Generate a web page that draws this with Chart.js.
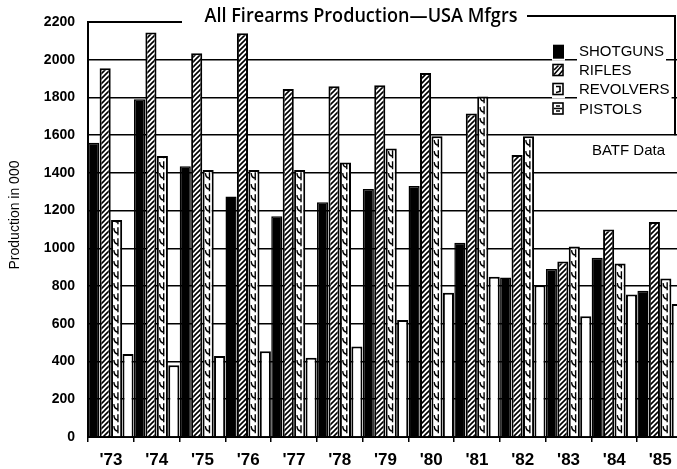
<!DOCTYPE html>
<html><head><meta charset="utf-8">
<script src="https://cdn.jsdelivr.net/npm/chart.js@4/dist/chart.umd.min.js"></script>
<style>html,body{margin:0;padding:0;background:#fff;overflow:hidden;}canvas{display:block}</style>
</head><body>
<canvas id="c" width="683" height="469"></canvas>
<script>
const years = ["'73","'74","'75","'76","'77","'78","'79","'80","'81","'82","'83","'84","'85"];
const shotguns  = [1560,1790,1435,1275,1170,1245,1315,1330,1030, 845, 890, 950, 775];
const rifles    = [1955,2145,2035,2140,1845,1860,1865,1930,1715,1495, 930,1100,1140];
const revolvers = [1150,1490,1415,1415,1415,1455,1530,1595,1805,1595,1010, 920, 840];
const pistols   = [ 440, 380, 430, 455, 420, 480, 620, 765, 850, 805, 640, 755, 705];
const yMin = 0, yMax = 2200, yStep = 200;
const seriesNames = ['SHOTGUNS','RIFLES','REVOLVERS','PISTOLS'];
const titleText = 'All Firearms Production\u2014USA Mfgrs';
const yTitleText = 'Production in 000';
const sourceText = 'BATF Data';

function hatchPattern(){
  const s=5, c=document.createElement('canvas'); c.width=s; c.height=s;
  const g=c.getContext('2d');
  g.fillStyle='#fff'; g.fillRect(0,0,s,s);
  g.strokeStyle='#000'; g.lineWidth=1.6; g.beginPath();
  g.moveTo(-1,s+1); g.lineTo(s+1,-1);
  g.moveTo(-1,1); g.lineTo(1,-1);
  g.moveTo(s-1,s+1); g.lineTo(s+1,s-1);
  g.stroke();
  return g.createPattern(c,'repeat');
}
const hatch = hatchPattern();

function drawHooks(ctx,left,right,top,bottom){
  ctx.save();
  ctx.beginPath(); ctx.rect(left+1,top+1,right-left-2,bottom-top-1); ctx.clip();
  ctx.strokeStyle='#000'; ctx.lineWidth=1.4;
  const w=right-left;
  for(let yy=bottom-10; yy>top-8; yy-=11){
    ctx.beginPath();
    ctx.moveTo(left+w*0.25, yy);
    ctx.quadraticCurveTo(left+w*0.3, yy+5, left+w*0.62, yy+5);
    ctx.moveTo(left+w*0.62, yy-1);
    ctx.lineTo(left+w*0.62, yy+7);
    ctx.stroke();
  }
  ctx.restore();
}

const decoPlugin = {
  id:'deco',
  afterDatasetsDraw(chart){
    const ctx=chart.ctx;
    const meta=chart.getDatasetMeta(2);
    meta.data.forEach(el=>{
      const p=el.getProps(['x','y','base','width'],true);
      drawHooks(ctx,p.x-p.width/2,p.x+p.width/2,p.y,p.base);
    });
  },
  afterDraw(chart){
    const ctx=chart.ctx, ys=chart.scales.y, a=chart.chartArea;
    const yTop=ys.getPixelForValue(yMax);
    ctx.save();
    ctx.strokeStyle='#000'; ctx.lineWidth=2;
    ctx.beginPath();
    ctx.moveTo(a.left-1,yTop); ctx.lineTo(182,yTop);
    ctx.moveTo(527,16); ctx.lineTo(676,16);
    ctx.moveTo(675,16); ctx.lineTo(675,ys.getPixelForValue(1600));
    ctx.stroke();
    ctx.fillStyle='#000';
    ctx.font='600 19px "Open Sans"';
    ctx.textAlign='center'; ctx.textBaseline='alphabetic';
    ctx.fillText(titleText,361,22,313);
    ctx.save();
    ctx.translate(15,215); ctx.rotate(-Math.PI/2);
    ctx.font='14px "Liberation Sans"'; ctx.textAlign='center'; ctx.textBaseline='middle';
    ctx.fillText(yTitleText,0,0);
    ctx.restore();
    const rows=[51.7,70.5,89.5,109];
    ctx.font='15px "Liberation Sans"';
    ctx.textAlign='left'; ctx.textBaseline='middle';
    rows.forEach((cy,i)=>{
      const tw=ctx.measureText(seriesNames[i]).width;
      ctx.fillStyle='#fff';
      ctx.fillRect(577,cy-8,tw+4,18);
      ctx.fillRect(552,cy-8,13,17);
      ctx.fillStyle='#000';
      ctx.fillText(seriesNames[i],579,cy+0.5);
      const ix=553, iy=cy-7, iw=11, ih=13;
      ctx.lineWidth=1.6; ctx.strokeStyle='#000';
      if(i===0){ctx.fillRect(ix,iy,iw,ih+1);}
      else if(i===1){ctx.strokeRect(ix,iy+1,iw-1,ih-2);ctx.beginPath();ctx.moveTo(ix+1,iy+ih-2);ctx.lineTo(ix+iw-2,iy+2);ctx.moveTo(ix+1,iy+ih/2);ctx.lineTo(ix+iw/2,iy+2);ctx.moveTo(ix+iw/2,iy+ih-1);ctx.lineTo(ix+iw-1,iy+ih/2);ctx.stroke();}
      else if(i===2){ctx.strokeRect(ix,iy+1,iw-1,ih-2);ctx.beginPath();ctx.moveTo(ix+3,iy+4);ctx.lineTo(ix+7,iy+4);ctx.lineTo(ix+7,iy+9);ctx.lineTo(ix+3,iy+10);ctx.stroke();}
      else {ctx.strokeRect(ix,iy+1,iw-1,ih-2);ctx.beginPath();ctx.moveTo(ix+1,iy+ih/2);ctx.lineTo(ix+iw-2,iy+ih/2);ctx.moveTo(ix+3,iy+4);ctx.lineTo(ix+7,iy+4);ctx.moveTo(ix+3,iy+9);ctx.lineTo(ix+7,iy+9);ctx.stroke();}
    });
    ctx.font='15px "Liberation Sans"'; ctx.textAlign='right';
    ctx.fillText(sourceText,665,151);
    ctx.restore();
  }
};

new Chart(document.getElementById('c'),{
  type:'bar',
  data:{
    labels:years,
    datasets:[
      {label:seriesNames[0],data:shotguns,backgroundColor:'#000',borderColor:'#000',borderWidth:1.5},
      {label:seriesNames[1],data:rifles,backgroundColor:hatch,borderColor:'#000',borderWidth:2},
      {label:seriesNames[2],data:revolvers,backgroundColor:'#fff',borderColor:'#000',borderWidth:2},
      {label:seriesNames[3],data:pistols,backgroundColor:'#fff',borderColor:'#000',borderWidth:2}
    ]
  },
  options:{
    responsive:false, animation:false,
    layout:{padding:{top:22,left:0,right:0,bottom:0}},
    datasets:{bar:{categoryPercentage:1,barPercentage:0.97,borderSkipped:'bottom'}},
    plugins:{legend:{display:false},title:{display:false},tooltip:{enabled:false}},
    scales:{
      x:{
        offset:true,
        grid:{display:true,offset:true,drawOnChartArea:false,drawTicks:true,tickLength:5,color:'#000',lineWidth:1.5},
        border:{display:true,color:'#000',width:2},
        ticks:{color:'#000',font:{family:'"Liberation Sans"',size:17,weight:'bold'},padding:8,maxRotation:0,autoSkip:false},
        afterFit(s){s.height=32;}
      },
      y:{
        min:yMin,max:yMax,
        ticks:{stepSize:yStep,color:'#000',font:{family:'"Liberation Sans"',size:14,weight:'bold'},padding:13,callback:(v)=>String(v)},
        grid:{drawTicks:false,color:(c)=> (c.tick && (c.tick.value===yMax || c.tick.value===yMin)) ? 'rgba(0,0,0,0)' : '#000',lineWidth:1.6},
        border:{display:true,color:'#000',width:2},
        afterFit(s){s.width=88;}
      }
    }
  },
  plugins:[decoPlugin]
});
</script>
</body></html>
